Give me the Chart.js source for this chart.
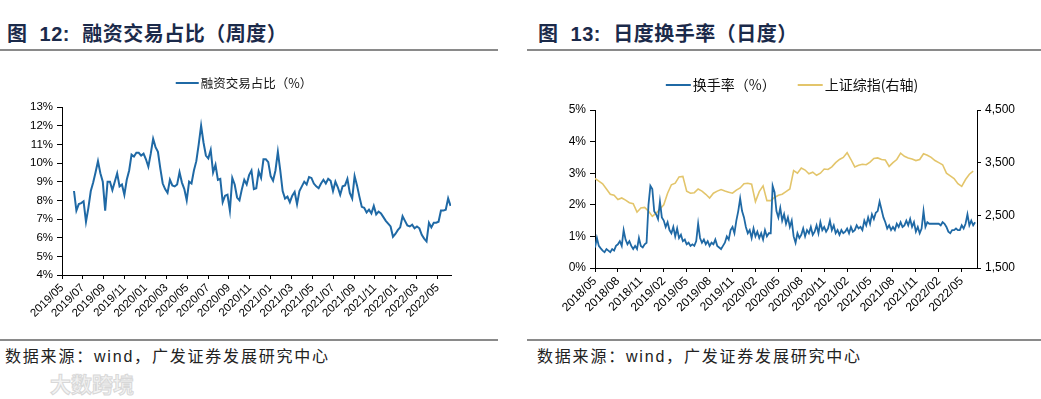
<!DOCTYPE html>
<html>
<head>
<meta charset="utf-8">
<script src="https://cdn.jsdelivr.net/npm/chart.js@4.4.0/dist/chart.umd.min.js"></script>
<style>
    body { margin: 0; width: 1041px; height: 399px; background: #fff; position: relative; overflow: hidden;
           font-family: "Liberation Sans", "Noto Sans CJK SC", sans-serif; }
    .title { position: absolute; top: 22px; font-size: 20px; line-height: 24px; font-weight: bold; color: #1b2a4a;
             white-space: nowrap; letter-spacing: 0.5px; }
    .rule { position: absolute; height: 2px; background: #8a8a8a; }
    .src { position: absolute; top: 347px; font-size: 16px; line-height: 20px; color: #222; white-space: nowrap; letter-spacing: 1.8px; }
    .box { position: absolute; top: 60px; height: 278px; }
    .mark { position: absolute; left: 50px; top: 368px; font-size: 21px; font-weight: bold; color: #f3f3f3;
            -webkit-text-stroke: 1px #d8d8d8; white-space: nowrap; }
</style>
</head>
<body>
<div class="title" style="left:7px">图&nbsp; 12:&nbsp; 融资交易占比（周度）</div>
<div class="rule" style="left:0;width:498px;top:49px"></div>
<div class="title" style="left:538px">图&nbsp; 13:&nbsp; 日度换手率（日度）</div>
<div class="rule" style="left:527px;width:514px;top:49px"></div>

<div class="box" style="left:0;width:500px"><canvas id="shareChart" width="500" height="278"></canvas></div>
<div class="box" style="left:527px;width:514px"><canvas id="turnChart" width="514" height="278"></canvas></div>

<div class="rule" style="left:0;width:498px;top:339px"></div>
<div class="src" style="left:5px">数据来源：wind，广发证券发展研究中心</div>
<div class="rule" style="left:527px;width:514px;top:339px"></div>
<div class="src" style="left:537px">数据来源：wind，广发证券发展研究中心</div>
<div class="mark">大数跨境</div>

<script>
// 图12：融资交易占比，周度，x 轴为自 2019/05 起的月数
const shareTickLabels = ['2019/05', '2019/07', '2019/09', '2019/11', '2020/01', '2020/03', '2020/05',
    '2020/07', '2020/09', '2020/11', '2021/01', '2021/03', '2021/05', '2021/07', '2021/09',
    '2021/11', '2022/01', '2022/03', '2022/05'];
const shareFirstMonth = 1.15; // 第一周大约在 2019/06 初
const shareValues = [
    8.5, 7.45, 7.8, 7.85, 7.95, 6.85, 7.6, 8.5, 8.95, 9.5, 10.1, 9.45, 9.0, 7.45, 9.0, 9.0,
    8.55, 9.0, 9.45, 8.75, 8.85, 8.3, 9.1, 9.6, 10.45, 10.35, 10.55, 10.55, 10.4, 10.5, 10.2, 9.8,
    10.5, 11.3, 10.85, 10.6, 9.7, 8.9, 8.6, 8.4, 9.1, 8.8, 8.75, 8.85, 9.5, 8.95, 8.6, 8.0,
    9.0, 8.9, 9.6, 10.1, 11.0, 12.0, 11.1, 10.4, 10.25, 10.7, 9.5, 9.9, 9.1, 9.15, 7.9, 8.25,
    8.3, 7.45, 9.2, 8.85, 8.15, 8.0, 8.6, 9.1, 8.85, 9.35, 9.6, 8.6, 8.65, 9.55, 9.2, 10.2,
    10.2, 10.05, 9.3, 9.05, 9.6, 10.6, 9.6, 8.5, 8.1, 8.2, 7.9, 8.25, 8.45, 7.8, 8.5, 8.75,
    9.0, 8.85, 9.25, 9.2, 8.9, 8.75, 8.65, 8.9, 9.1, 8.9, 9.15, 9.05, 8.5, 9.0, 8.7, 8.3,
    8.75, 8.8, 9.15, 8.4, 8.1, 9.3, 8.8, 8.2, 7.65, 7.6, 7.35, 7.5, 7.3, 7.7, 7.25, 7.4,
    7.3, 7.1, 6.9, 6.75, 6.6, 6.05, 6.2, 6.4, 6.55, 7.15, 6.9, 6.65, 6.6, 6.7, 6.5, 6.6,
    6.5, 6.15, 5.95, 5.8, 6.8, 6.55, 6.8, 6.8, 6.85, 7.45, 7.45, 7.5, 8.1, 7.7
];

// 图13：换手率（每 1/4 月一个点）与上证综指（每 1/2 月一个点），x 轴为自 2018/05 起的月数
const turnTickLabels = ['2018/05', '2018/08', '2018/11', '2019/02', '2019/05', '2019/08', '2019/11',
    '2020/02', '2020/05', '2020/08', '2020/11', '2021/02', '2021/05', '2021/08', '2021/11',
    '2022/02', '2022/05'];
const turnValues = [
    0.65, 0.95, 0.7, 0.62, 0.55, 0.5, 0.6, 0.55, 0.5, 0.6, 0.55, 0.7, 0.75, 0.85, 0.7, 1.2,
    0.9, 0.75, 0.85, 0.7, 0.6, 0.7, 0.6, 0.95, 0.7, 0.65, 0.75, 0.8, 2.0, 2.6, 2.5, 1.8,
    1.7, 1.55, 2.1, 1.6, 1.5, 1.3, 1.45, 1.2, 1.1, 1.3, 1.0, 1.25, 0.95, 1.05, 0.85, 0.9,
    0.75, 0.8, 0.7, 0.75, 0.7, 0.85, 1.4, 0.95, 0.8, 0.9, 0.75, 0.85, 0.7, 0.8, 0.75, 0.9,
    0.7, 0.65, 0.6, 0.7, 0.8, 1.0, 0.9, 1.2, 1.3, 1.1, 1.5, 1.8, 2.2, 1.8, 1.6, 1.3,
    1.1, 1.2, 0.95, 1.25, 1.0, 1.15, 0.95, 1.1, 0.9, 1.2, 1.0, 1.1, 1.1, 2.6, 2.4, 1.8,
    1.6, 1.9, 1.5, 1.7, 1.4, 1.6, 1.3, 1.5, 1.0, 0.8, 1.1, 0.95, 1.05, 1.25, 1.0, 1.2,
    1.1, 1.3, 1.05, 1.15, 1.35, 1.1, 1.45, 1.2, 1.3, 1.15, 1.25, 1.5, 1.2, 1.35, 1.1, 1.2,
    1.05, 1.2, 1.1, 1.15, 1.25, 1.1, 1.3, 1.15, 1.2, 1.35, 1.25, 1.3, 1.2, 1.5, 1.35, 1.6,
    1.4, 1.7, 1.55, 1.75, 1.8, 2.1, 1.85, 1.6, 1.45, 1.25, 1.35, 1.2, 1.3, 1.2, 1.4, 1.3,
    1.45, 1.3, 1.35, 1.5, 1.35, 1.55, 1.3, 1.45, 1.15, 1.3, 1.1, 1.25, 1.8, 1.3, 1.45, 1.4,
    1.4, 1.4, 1.4, 1.4, 1.4, 1.35, 1.45, 1.4, 1.3, 1.15, 1.1, 1.2, 1.2, 1.25, 1.2, 1.2,
    1.35, 1.25, 1.4, 1.7, 1.35, 1.5, 1.35, 1.45
];
const sseValues = [
    3200, 3150, 3100, 3000, 2900, 2880, 2800, 2830, 2790, 2740, 2720, 2560, 2640, 2650, 2580, 2480,
    2540, 2620, 2700, 2920, 3080, 3110, 3230, 3240, 2960, 2920, 2930, 3000, 2960, 2900, 2830, 2920,
    2960, 2990, 2960, 2940, 2920, 2980, 3020, 3100, 3110, 3090, 2760, 2950, 3060, 2780, 2780, 2840,
    2880, 2900, 2950, 3000, 3350, 3300, 3400, 3360, 3290, 3320, 3260, 3300, 3380, 3370, 3420, 3500,
    3560, 3600, 3690, 3560, 3420, 3450, 3470, 3460, 3510, 3580, 3590, 3560, 3550, 3430, 3500, 3560,
    3680, 3620, 3590, 3570, 3540, 3560, 3670, 3640, 3600, 3540, 3500, 3460, 3300, 3250, 3200, 3100,
    3050, 3180, 3280, 3340
];

const BLUE = '#1f69a5';
const GOLD = '#e3c56b';
const WEEK = 12 / 52.18;

// 图例：一小段线 + 文字，整体居中
const lineLegend = {
    id: 'lineLegend',
    afterDraw(chart, args, opts) {
        const ctx = chart.ctx;
        ctx.save();
        ctx.font = opts.font;
        ctx.textBaseline = 'middle';
        const items = chart.data.datasets.map(ds => ({ ds, w: ctx.measureText(ds.label).width }));
        const total = items.reduce((s, it) => s + opts.lineLength + opts.gap + it.w, 0) + opts.spacing * (items.length - 1);
        let x = opts.centerX - total / 2;
        items.forEach(({ ds, w }) => {
            ctx.strokeStyle = ds.borderColor;
            ctx.lineWidth = 2;
            ctx.beginPath();
            ctx.moveTo(x, opts.y);
            ctx.lineTo(x + opts.lineLength, opts.y);
            ctx.stroke();
            x += opts.lineLength + opts.gap;
            ctx.fillStyle = '#111';
            ctx.fillText(ds.label, x, opts.y);
            x += w + opts.spacing;
        });
        ctx.restore();
    }
};

function axisStyle(size) {
    return {
        grid: { display: true, drawOnChartArea: false, tickLength: 5, color: '#000' },
        border: { color: '#000', width: 1 },
        ticks: { color: '#000', padding: 4, font: { family: '"Liberation Sans", Arial', size: size } }
    };
}

function xAxis(labels, step, max, height, size) {
    const s = axisStyle(size);
    return {
        type: 'linear', min: 0, max: max,
        afterFit: scale => { scale.height = height; },
        afterBuildTicks: scale => { scale.ticks = labels.map((_, i) => ({ value: i * step })); },
        grid: { ...s.grid, tickLength: 4 },
        border: s.border,
        ticks: { ...s.ticks, padding: 2, autoSkip: false, minRotation: 45, maxRotation: 45,
                 callback: v => labels[Math.round(v / step)] }
    };
}

const sharePoints = shareValues.map((v, i) => ({ x: shareFirstMonth + i * WEEK, y: v }));

new Chart(document.getElementById('shareChart'), {
    type: 'line',
    data: {
        datasets: [{
            label: '融资交易占比（%）',
            data: sharePoints,
            borderColor: BLUE, backgroundColor: BLUE,
            borderWidth: 2, pointRadius: 0, tension: 0
        }]
    },
    options: {
        responsive: false, animation: false,
        layout: { padding: { top: 47, right: 49, left: 0, bottom: 0 } },
        plugins: {
            legend: { display: false }, tooltip: { enabled: false },
            lineLegend: { centerX: 244, y: 23, font: '12.5px "Noto Sans CJK SC"', lineLength: 23, gap: 2, spacing: 20 }
        },
        scales: {
            x: xAxis(shareTickLabels, 2, 37.3, 63, 11.5),
            y: {
                ...axisStyle(11.5), min: 4, max: 13,
                afterFit: scale => { scale.width = 62; },
                ticks: { ...axisStyle(11.5).ticks, stepSize: 1, callback: v => v + '%' }
            }
        }
    },
    plugins: [lineLegend]
});

const turnPoints = turnValues.map((v, i) => ({ x: i * 0.25, y: v }));
const ssePoints = sseValues.map((v, i) => ({ x: i * 0.5, y: v }));

new Chart(document.getElementById('turnChart'), {
    type: 'line',
    data: {
        datasets: [
            { label: '换手率（%）', data: turnPoints, yAxisID: 'y', borderColor: BLUE, backgroundColor: BLUE,
              borderWidth: 1.8, pointRadius: 0, tension: 0 },
            { label: '上证综指(右轴)', data: ssePoints, yAxisID: 'y1', borderColor: GOLD, backgroundColor: GOLD,
              borderWidth: 1.6, pointRadius: 0, tension: 0 }
        ]
    },
    options: {
        responsive: false, animation: false,
        layout: { padding: { top: 50, right: 0, left: 0, bottom: 0 } },
        plugins: {
            legend: { display: false }, tooltip: { enabled: false },
            lineLegend: { centerX: 265, y: 25, font: '14px "Noto Sans CJK SC"', lineLength: 25, gap: 2, spacing: 22 }
        },
        scales: {
            x: xAxis(turnTickLabels, 3, 50, 70, 12),
            y: {
                ...axisStyle(12), position: 'left', min: 0, max: 5,
                afterFit: scale => { scale.width = 68; },
                ticks: { ...axisStyle(12).ticks, stepSize: 1, callback: v => v + '%' }
            },
            y1: {
                ...axisStyle(12), position: 'right', min: 1500, max: 4500,
                afterFit: scale => { scale.width = 64; },
                grid: { ...axisStyle(12).grid, tickLength: 4 },
                ticks: { ...axisStyle(12).ticks, stepSize: 1000, callback: v => v.toLocaleString('en-US') }
            }
        }
    },
    plugins: [lineLegend]
});
</script>
</body>
</html>
